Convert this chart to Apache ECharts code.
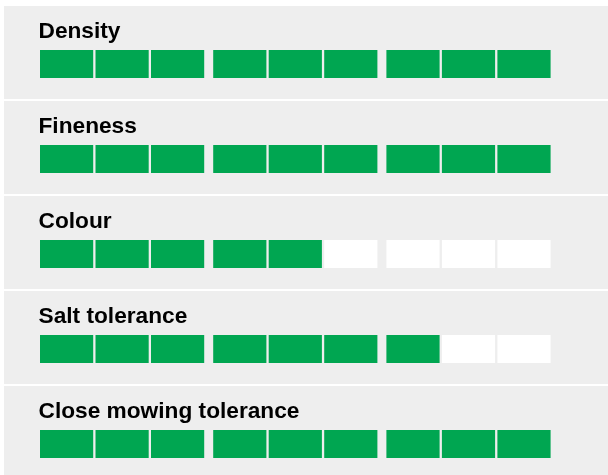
<!DOCTYPE html>
<html>
<head>
<meta charset="utf-8">
<script src="https://cdn.jsdelivr.net/npm/echarts@6/dist/echarts.min.js"></script>
<style>
html,body{margin:0;padding:0;background:#ffffff;}
#chart{width:608px;height:475px;}
</style>
</head>
<body>
<div id="chart"></div>
<script>
// ---- data ----
const categories = ["Density", "Fineness", "Colour", "Salt tolerance", "Close mowing tolerance"];
const ratings = [9, 9, 5, 7, 9];
const maxRating = 9;
const cellsPerGroup = 3;

// ---- layout / style ----
const GREEN = '#00a651';
const EMPTY = '#ffffff';
const PANEL_BG = '#eeeeee';
const panelX = 4, panelW = 604, panelH = 93, panelStep = 95, panelTop0 = 6;
const gridLeft = 40, gridW = 511, cellOffset = 44, cellH = 28;
const CELL_W = 53.2, IN_GAP = 2.3, GROUP_GAP = 9;

const chart = echarts.init(document.getElementById('chart'), null, {renderer: 'canvas'});

const grids = [], xAxes = [], yAxes = [], series = [], titles = [], graphics = [];
categories.forEach((name, k) => {
  const top = panelTop0 + panelStep * k;
  graphics.push({
    type: 'rect', left: panelX, top: top, z: -10,
    shape: {width: panelW, height: panelH},
    style: {fill: PANEL_BG}
  });
  titles.push({
    text: name, left: 38.5, top: top + 14, padding: 0,
    textStyle: {fontFamily: '"Liberation Sans", Arial, sans-serif', fontSize: 22.7, fontWeight: 'bold', color: '#000000'}
  });
  grids.push({left: gridLeft, top: top + cellOffset, width: gridW, height: cellH, containLabel: false});
  xAxes.push({type: 'value', gridIndex: k, min: 0, max: gridW, show: false});
  yAxes.push({type: 'value', gridIndex: k, min: 0, max: 1, show: false});
  const data = [];
  for (let i = 0; i < maxRating; i++) data.push([i, i < ratings[k] ? 1 : 0]);
  series.push({
    type: 'custom', xAxisIndex: k, yAxisIndex: k, silent: true,
    data: data,
    renderItem: function (params, api) {
      const i = api.value(0);
      const filled = api.value(1);
      const g = Math.floor(i / cellsPerGroup);
      const start = i * (CELL_W + IN_GAP) + g * (GROUP_GAP - IN_GAP);
      const p0 = api.coord([start, 1]);
      const p1 = api.coord([start + CELL_W, 0]);
      return {
        type: 'rect',
        shape: {x: p0[0], y: p0[1], width: p1[0] - p0[0], height: p1[1] - p0[1]},
        style: {fill: filled ? GREEN : EMPTY}
      };
    }
  });
});

chart.setOption({
  animation: false,
  backgroundColor: '#ffffff',
  title: titles,
  graphic: graphics,
  grid: grids,
  xAxis: xAxes,
  yAxis: yAxes,
  series: series
});
</script>
</body>
</html>
